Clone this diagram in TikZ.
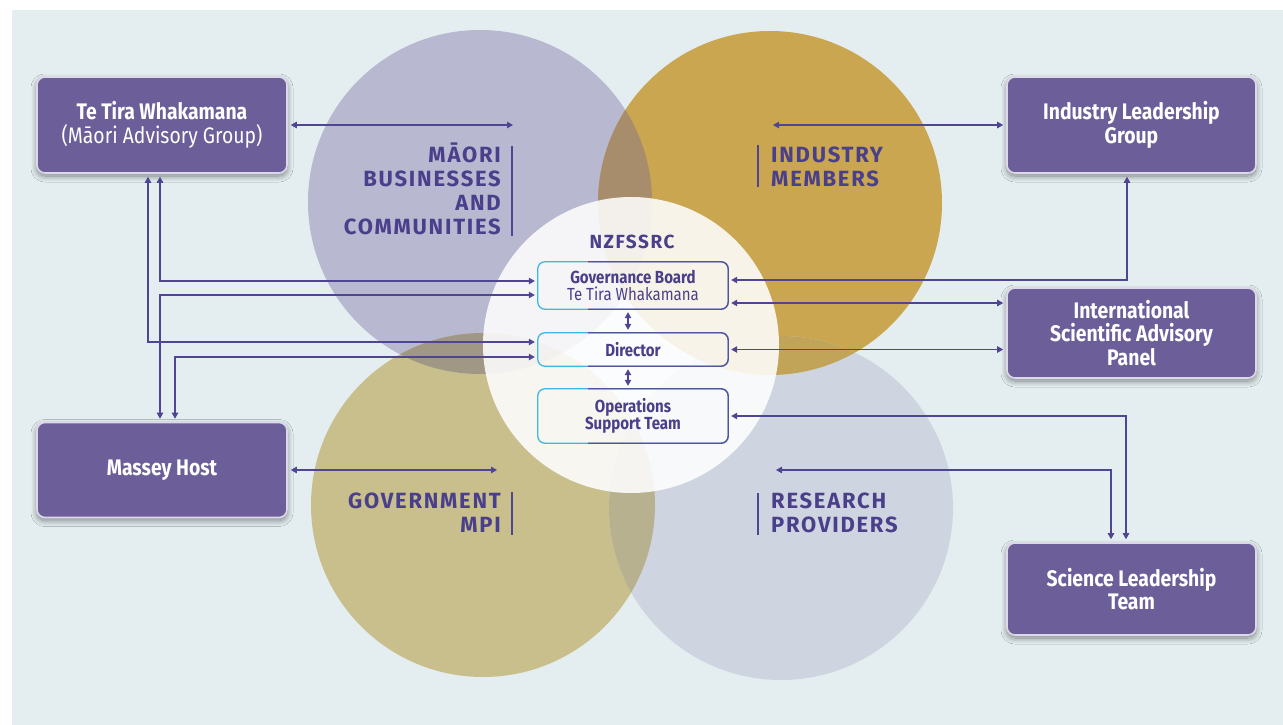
\documentclass[tikz,border=0pt]{standalone}
\usepackage{fontspec}
\setmainfont{Fira Sans}
\newfontfamily\condfont[FakeStretch=0.86]{Fira Sans}
\newfontfamily\catfont[LetterSpace=8]{Fira Sans}
\usetikzlibrary{arrows.meta,shadows.blur}
\definecolor{bg}{HTML}{E4EEF0}
\definecolor{cM}{HTML}{B8B8D0}
\definecolor{cI}{HTML}{C9A64F}
\definecolor{cG}{HTML}{C8BF8C}
\definecolor{cR}{HTML}{CFD5E0}
\definecolor{cMI}{HTML}{A88D6C}
\definecolor{cMG}{HTML}{A09884}
\definecolor{cGR}{HTML}{B8B18F}
\definecolor{cIR}{HTML}{C2A458}
\definecolor{boxp}{HTML}{6C5F99}
\definecolor{boxedge}{HTML}{DCD8EA}
\definecolor{linep}{HTML}{4F4592}
\definecolor{txtp}{HTML}{4A3F8A}
\definecolor{cyanb}{HTML}{3DB7E4}
\definecolor{purpb}{HTML}{5A4F98}
\newcommand\gradborder[1]{%
  \draw[cyanb, line width=1.3pt, rounded corners=7pt] (#1.south west) rectangle (#1.north east);
  \begin{scope}
    \clip ([shift={(-45pt,10pt)}]#1.north) rectangle ([shift={(10pt,-10pt)}]#1.south east);
    \draw[purpb, line width=1.3pt, rounded corners=7pt] (#1.south west) rectangle (#1.north east);
  \end{scope}}
\begin{document}
\begin{tikzpicture}[x=1pt,y=-1pt,
  arr/.style={draw=linep, line width=1.1pt,
    {Triangle[length=6pt,width=6.5pt]}-{Triangle[length=6pt,width=6.5pt]},
    shorten <=3pt, shorten >=3pt},
  obox/.style={draw=boxedge, line width=1.6pt, fill=boxp, rounded corners=8pt,
    text=white, font=\condfont\bfseries\fontsize{22.5}{23.5}\selectfont, align=center,
    minimum width=250pt, inner sep=0pt,
    blur shadow={shadow xshift=0pt, shadow yshift=-3pt, shadow blur radius=6pt,
      shadow blur steps=12, shadow opacity=45}},
  ibox/.style={minimum width=190pt, inner sep=0pt, align=center, text=txtp,
    font=\condfont\bfseries\fontsize{17.5}{17}\selectfont},
  catr/.style={anchor=base east, inner sep=0pt, text=txtp, font=\catfont\bfseries\fontsize{22}{24}\selectfont},
  catl/.style={anchor=base west, inner sep=0pt, text=txtp, font=\catfont\bfseries\fontsize{22}{24}\selectfont},
  bar/.style={draw=linep, line width=1.1pt}]
\useasboundingbox (0,0) rectangle (1283,725);
\fill[white] (0,0) rectangle (1283,725);
\fill[bg] (12,10) rectangle (1283,725);
% circles
\fill[cM] (480,202) circle[radius=172pt];
\fill[cI] (770,203) circle[radius=172pt];
\fill[cG] (483,505) circle[radius=172pt];
\fill[cR] (781,508) circle[radius=172pt];
\begin{scope}\clip (480,202) circle[radius=172pt]; \fill[cMI] (770,203) circle[radius=172pt];\end{scope}
\begin{scope}\clip (480,202) circle[radius=172pt]; \fill[cMG] (483,505) circle[radius=172pt];\end{scope}
\begin{scope}\clip (483,505) circle[radius=172pt]; \fill[cGR] (781,508) circle[radius=172pt];\end{scope}
\begin{scope}\clip (770,203) circle[radius=172pt]; \fill[cIR] (781,508) circle[radius=172pt];\end{scope}
% centre circle
\fill[white, opacity=0.87] (631,345) circle[radius=148pt];
% category labels
\node[catr] (m1) at (501,162) {MĀORI};
\node[catr] (m2) at (501,186) {BUSINESSES};
\node[catr] (m3) at (501,210) {AND};
\node[catr] (m4) at (501,234) {COMMUNITIES};
\draw[bar] (512,146) -- (512,236);
\node[catl] (i1) at (771,162) {INDUSTRY};
\node[catl] (i2) at (771,186) {MEMBERS};
\draw[bar] (758,145) -- (758,187);
\node[catr] (g1) at (501,508) {GOVERNMENT};
\node[catr] (g2) at (501,532) {MPI};
\draw[bar] (512,492) -- (512,535);
\node[catl] (r1) at (771,508) {RESEARCH};
\node[catl] (r2) at (771,532) {PROVIDERS};
\draw[bar] (758,493) -- (758,535);
\node[anchor=base, inner sep=0pt, text=txtp, font=\catfont\bfseries\fontsize{19}{20}\selectfont] (nz) at (632,248) {NZFSSRC};
% inner boxes
\node[ibox, minimum height=47pt] (gov) at (633,285.5) {Governance Board\\{\mdseries Te Tira Whakamana}};
\node[ibox, minimum height=33pt] (dir) at (633,349.5) {Director};
\node[ibox, minimum height=54pt] (ops) at (633,416) {Operations\\Support Team};
\gradborder{gov}
\gradborder{dir}
\gradborder{ops}
% outer boxes
\node[obox, minimum height=96pt] (tira) at (162,125) {Te Tira Whakamana\\{\mdseries (Māori Advisory Group)}};
\node[obox, minimum height=95pt] (massey) at (162,470) {Massey Host};
\node[obox, minimum width=249pt, minimum height=96pt] (ilg) at (1131.5,125) {Industry Leadership\\Group};
\node[obox, minimum width=249pt, minimum height=90pt] (isap) at (1131.5,333) {International\\Scientific Advisory\\Panel};
\node[obox, minimum width=249pt, minimum height=92pt] (slt) at (1131.5,589) {Science Leadership\\Team};
% free ends
\coordinate (mA) at (516,125);
\coordinate (iA) at (770,125);
\coordinate (gA) at (500,470);
\coordinate (rA) at (773,470);
% connectors
\draw[arr] (tira.east) -- (mA);
\draw[arr] (iA) -- (ilg.west);
\draw[arr] (massey.east) -- (gA);
\draw[arr] (rA) -| ([xshift=-20.5pt]slt.north);
\draw[arr] (ops.east) -| ([xshift=-5.5pt]slt.north);
\draw[arr] ([xshift=-4.5pt]ilg.south) |- ([yshift=5.5pt]gov.east);
\draw[arr] ([yshift=-17.5pt]gov.east) -- ([yshift=-17.5pt]gov.east -| isap.west);
\draw[arr] (dir.east) -- (dir.east -| isap.west);
\draw[arr] ([xshift=-2pt]tira.south) |- ([yshift=4.5pt]gov.west);
\draw[arr] ([xshift=-14pt]tira.south) |- ([yshift=7.5pt]dir.west);
\draw[arr] ([xshift=-2pt]massey.north) |- ([yshift=-9.5pt]gov.west);
\draw[arr] ([xshift=13pt]massey.north) |- ([yshift=-7.5pt]dir.west);
\draw[arr] ([xshift=-5pt]gov.south) -- ([xshift=-5pt]dir.north);
\draw[arr] ([xshift=-5pt]dir.south) -- ([xshift=-5pt]ops.north);
\end{tikzpicture}
\end{document}
